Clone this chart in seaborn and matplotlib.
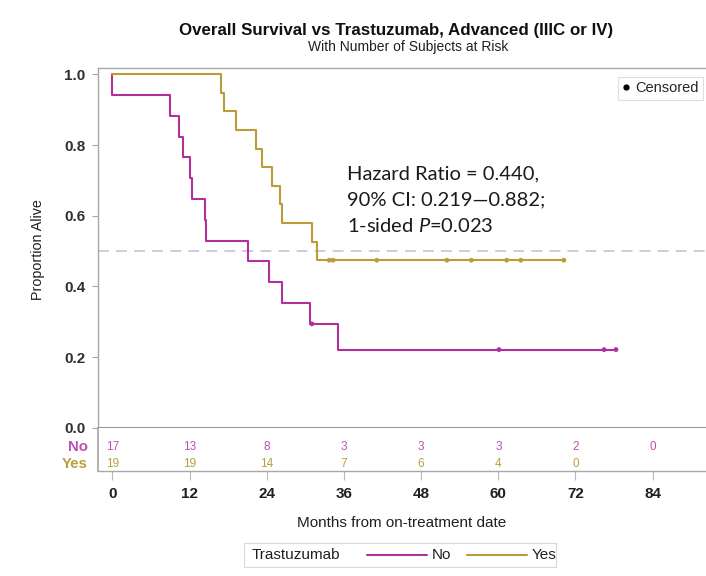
import numpy as np
import pandas as pd
import seaborn as sns
import matplotlib
matplotlib.use("Agg")
import matplotlib.pyplot as plt
from matplotlib.lines import Line2D
from matplotlib.patches import Rectangle
from matplotlib.transforms import blended_transform_factory

# ---------------- data ----------------
no_times = [0, 0, 8.9, 10.4, 11.0, 12.1, 12.4, 14.35, 14.6, 21.1, 24.4, 26.3, 30.7, 35.0, 78.3]
no_surv = [1.0, 0.941, 0.882, 0.824, 0.765, 0.706, 0.647, 0.588, 0.529, 0.471, 0.412, 0.353, 0.294, 0.221, 0.221]
yes_times = [0, 16.84, 17.36, 19.18, 22.3, 23.19, 24.75, 26.04, 26.3, 31.08, 31.86, 70.2]
yes_surv = [1.0, 0.947, 0.895, 0.842, 0.789, 0.737, 0.684, 0.632, 0.579, 0.526, 0.474, 0.474]

no_cens_t = [31.0, 60.1, 76.45, 78.3]
no_cens_s = [0.294, 0.221, 0.221, 0.221]
yes_cens_t = [33.7, 34.3, 41.1, 52.0, 55.8, 61.3, 63.5, 70.2]
yes_cens_s = [0.474, 0.474, 0.474, 0.474, 0.474, 0.474, 0.474, 0.474]

risk_times = [0, 12, 24, 36, 48, 60, 72, 84]
no_risk = [17, 13, 8, 3, 3, 3, 2, 0]
yes_risk = [19, 19, 14, 7, 6, 4, 0]

y_ticks = [0.0, 0.2, 0.4, 0.6, 0.8, 1.0]
groups = ["No", "Yes"]

# ---------------- style ----------------
sns.set_theme(style="white")
plt.rcParams["font.family"] = ["Liberation Sans", "DejaVu Sans"]
plt.rcParams["mathtext.fontset"] = "custom"
plt.rcParams["mathtext.rm"] = "Lato"
plt.rcParams["mathtext.it"] = "Lato:italic"

C_NO = "#B2309E"
C_YES = "#BA9C3A"
C_NO_T = "#C050B0"
C_YES_T = "#B8A040"
SPINE = "#A8A8A8"
palette = {"No": C_NO, "Yes": C_YES}

W, H = 706, 576
fig = plt.figure(figsize=(W / 100, H / 100), dpi=100)

x0 = 97.7 / W
ax = fig.add_axes([x0, 1 - 427.7 / H, 1 - x0, (427.7 - 68) / H])
rax = fig.add_axes([x0, 1 - 470.7 / H, 1 - x0, (470.7 - 427.7) / H])

XL = (-2.3, 92.3)

# curves
df = pd.concat([
    pd.DataFrame({"t": no_times, "s": no_surv, "group": "No"}),
    pd.DataFrame({"t": yes_times, "s": yes_surv, "group": "Yes"}),
], ignore_index=True)
cens = pd.concat([
    pd.DataFrame({"t": no_cens_t, "s": no_cens_s, "group": "No"}),
    pd.DataFrame({"t": yes_cens_t, "s": yes_cens_s, "group": "Yes"}),
], ignore_index=True)

ax.axhline(0.5, color="#C8C8DC", lw=1.3, dashes=(6, 4), zorder=1)
sns.lineplot(data=df, x="t", y="s", hue="group", palette=palette, estimator=None,
             sort=False, drawstyle="steps-post", lw=1.5, legend=False, ax=ax, zorder=3)
sns.scatterplot(data=cens, x="t", y="s", hue="group", palette=palette, s=12,
                linewidth=0, legend=False, ax=ax, zorder=4)

ax.set_xlim(*XL)
ax.set_ylim(0, 1.018)
ax.set_xticks([])
ax.set_yticks(y_ticks)
ax.set_yticklabels([f"{v:.1f}" for v in y_ticks], fontsize=11, fontweight="bold", color="#303030")
ax.tick_params(axis="y", length=4.5, width=0.8, color=SPINE, pad=4.5, left=True)
ax.set_xlabel("")
ax.set_ylabel("")
for side in ["top", "left"]:
    ax.spines[side].set_color(SPINE)
    ax.spines[side].set_linewidth(1.0)
ax.spines["bottom"].set_color("#808080")
ax.spines["bottom"].set_linewidth(1.2)
ax.spines["right"].set_visible(False)

fig.text(38 / W, 1 - 250 / H, "Proportion Alive", rotation=90, ha="center", va="center",
         fontsize=10.3, color="#202020")

# hazard ratio annotation
hr_kw = dict(fontsize=14.5, family=["Lato", "DejaVu Sans"], color="#1a1a1a", va="center", ha="left",
             transform=fig.transFigure)
fig.text(347 / W, 1 - 174 / H, "Hazard Ratio = 0.440,", **hr_kw)
fig.text(347 / W, 1 - 200 / H, "90% CI: 0.219\u20140.882;", **hr_kw)
fig.text(347 / W, 1 - 226 / H, r"1-sided $\mathit{P}$=0.023", **hr_kw)

# censored legend
leg = ax.legend(handles=[Line2D([], [], marker="o", ms=3.5, color="black", ls="")],
                labels=["Censored"], loc="upper right",
                bbox_to_anchor=(703 / W, 1 - 77 / H), bbox_transform=fig.transFigure,
                borderaxespad=0, fontsize=10.5, frameon=True, fancybox=False,
                handlelength=0.5, handletextpad=0.4, borderpad=0.3)
leg.get_frame().set_edgecolor("#D8D8D8")
leg.get_frame().set_linewidth(0.8)

# risk table
rax.set_xlim(*XL)
rax.set_ylim(0, 1)
for t, n in zip(risk_times, no_risk):
    rax.text(t, 0.55, str(n), ha="center", va="center", fontsize=8.5, color=C_NO_T)
for t, n in zip(risk_times, yes_risk):
    rax.text(t, 0.16, str(n), ha="center", va="center", fontsize=8.5, color=C_YES_T)
bt = blended_transform_factory(rax.transAxes, rax.transData)
rax.text(-0.016, 0.55, "No", transform=bt, ha="right", va="center", fontsize=10.8,
         fontweight="bold", color=C_NO_T)
rax.text(-0.016, 0.16, "Yes", transform=bt, ha="right", va="center", fontsize=10.8,
         fontweight="bold", color=C_YES_T)
rax.set_yticks([])
rax.set_xticks(risk_times)
rax.set_xticklabels([str(t) for t in risk_times], fontsize=11, fontweight="bold", color="#202020")
rax.tick_params(axis="x", length=6.5, width=0.8, color="#B8B8B8", pad=5, bottom=True)
rax.spines["top"].set_visible(False)
rax.spines["right"].set_visible(False)
rax.spines["left"].set_color(SPINE)
rax.spines["bottom"].set_color(SPINE)
rax.spines["bottom"].set_linewidth(1.0)

fig.text(402 / W, 1 - 523 / H, "Months from on-treatment date", ha="center", va="center",
         fontsize=11, color="#202020")

# titles
fig.text(396 / W, 1 - 30 / H, "Overall Survival vs Trastuzumab, Advanced (IIIC or IV)",
         ha="center", va="center", fontsize=12.2, fontweight="bold", color="#101010")
fig.text(408 / W, 1 - 47 / H, "With Number of Subjects at Risk", ha="center", va="center",
         fontsize=10, color="#202020")

# bottom group legend
fig.add_artist(Rectangle((244 / W, 1 - 567 / H), 312 / W, 24 / H, transform=fig.transFigure,
                         facecolor="white", edgecolor="#D8D8D8", lw=0.8))
yl = 1 - 555 / H
fig.text(252 / W, yl, "Trastuzumab", ha="left", va="center", fontsize=11, color="#202020")
fig.add_artist(Line2D([367 / W, 427 / W], [yl, yl], transform=fig.transFigure, color=C_NO, lw=1.5))
fig.text(432 / W, yl, groups[0], ha="left", va="center", fontsize=11, color="#202020")
fig.add_artist(Line2D([467 / W, 527 / W], [yl, yl], transform=fig.transFigure, color=C_YES, lw=1.5))
fig.text(532 / W, yl, groups[1], ha="left", va="center", fontsize=11, color="#202020")

fig.savefig("out.png", dpi=100)
